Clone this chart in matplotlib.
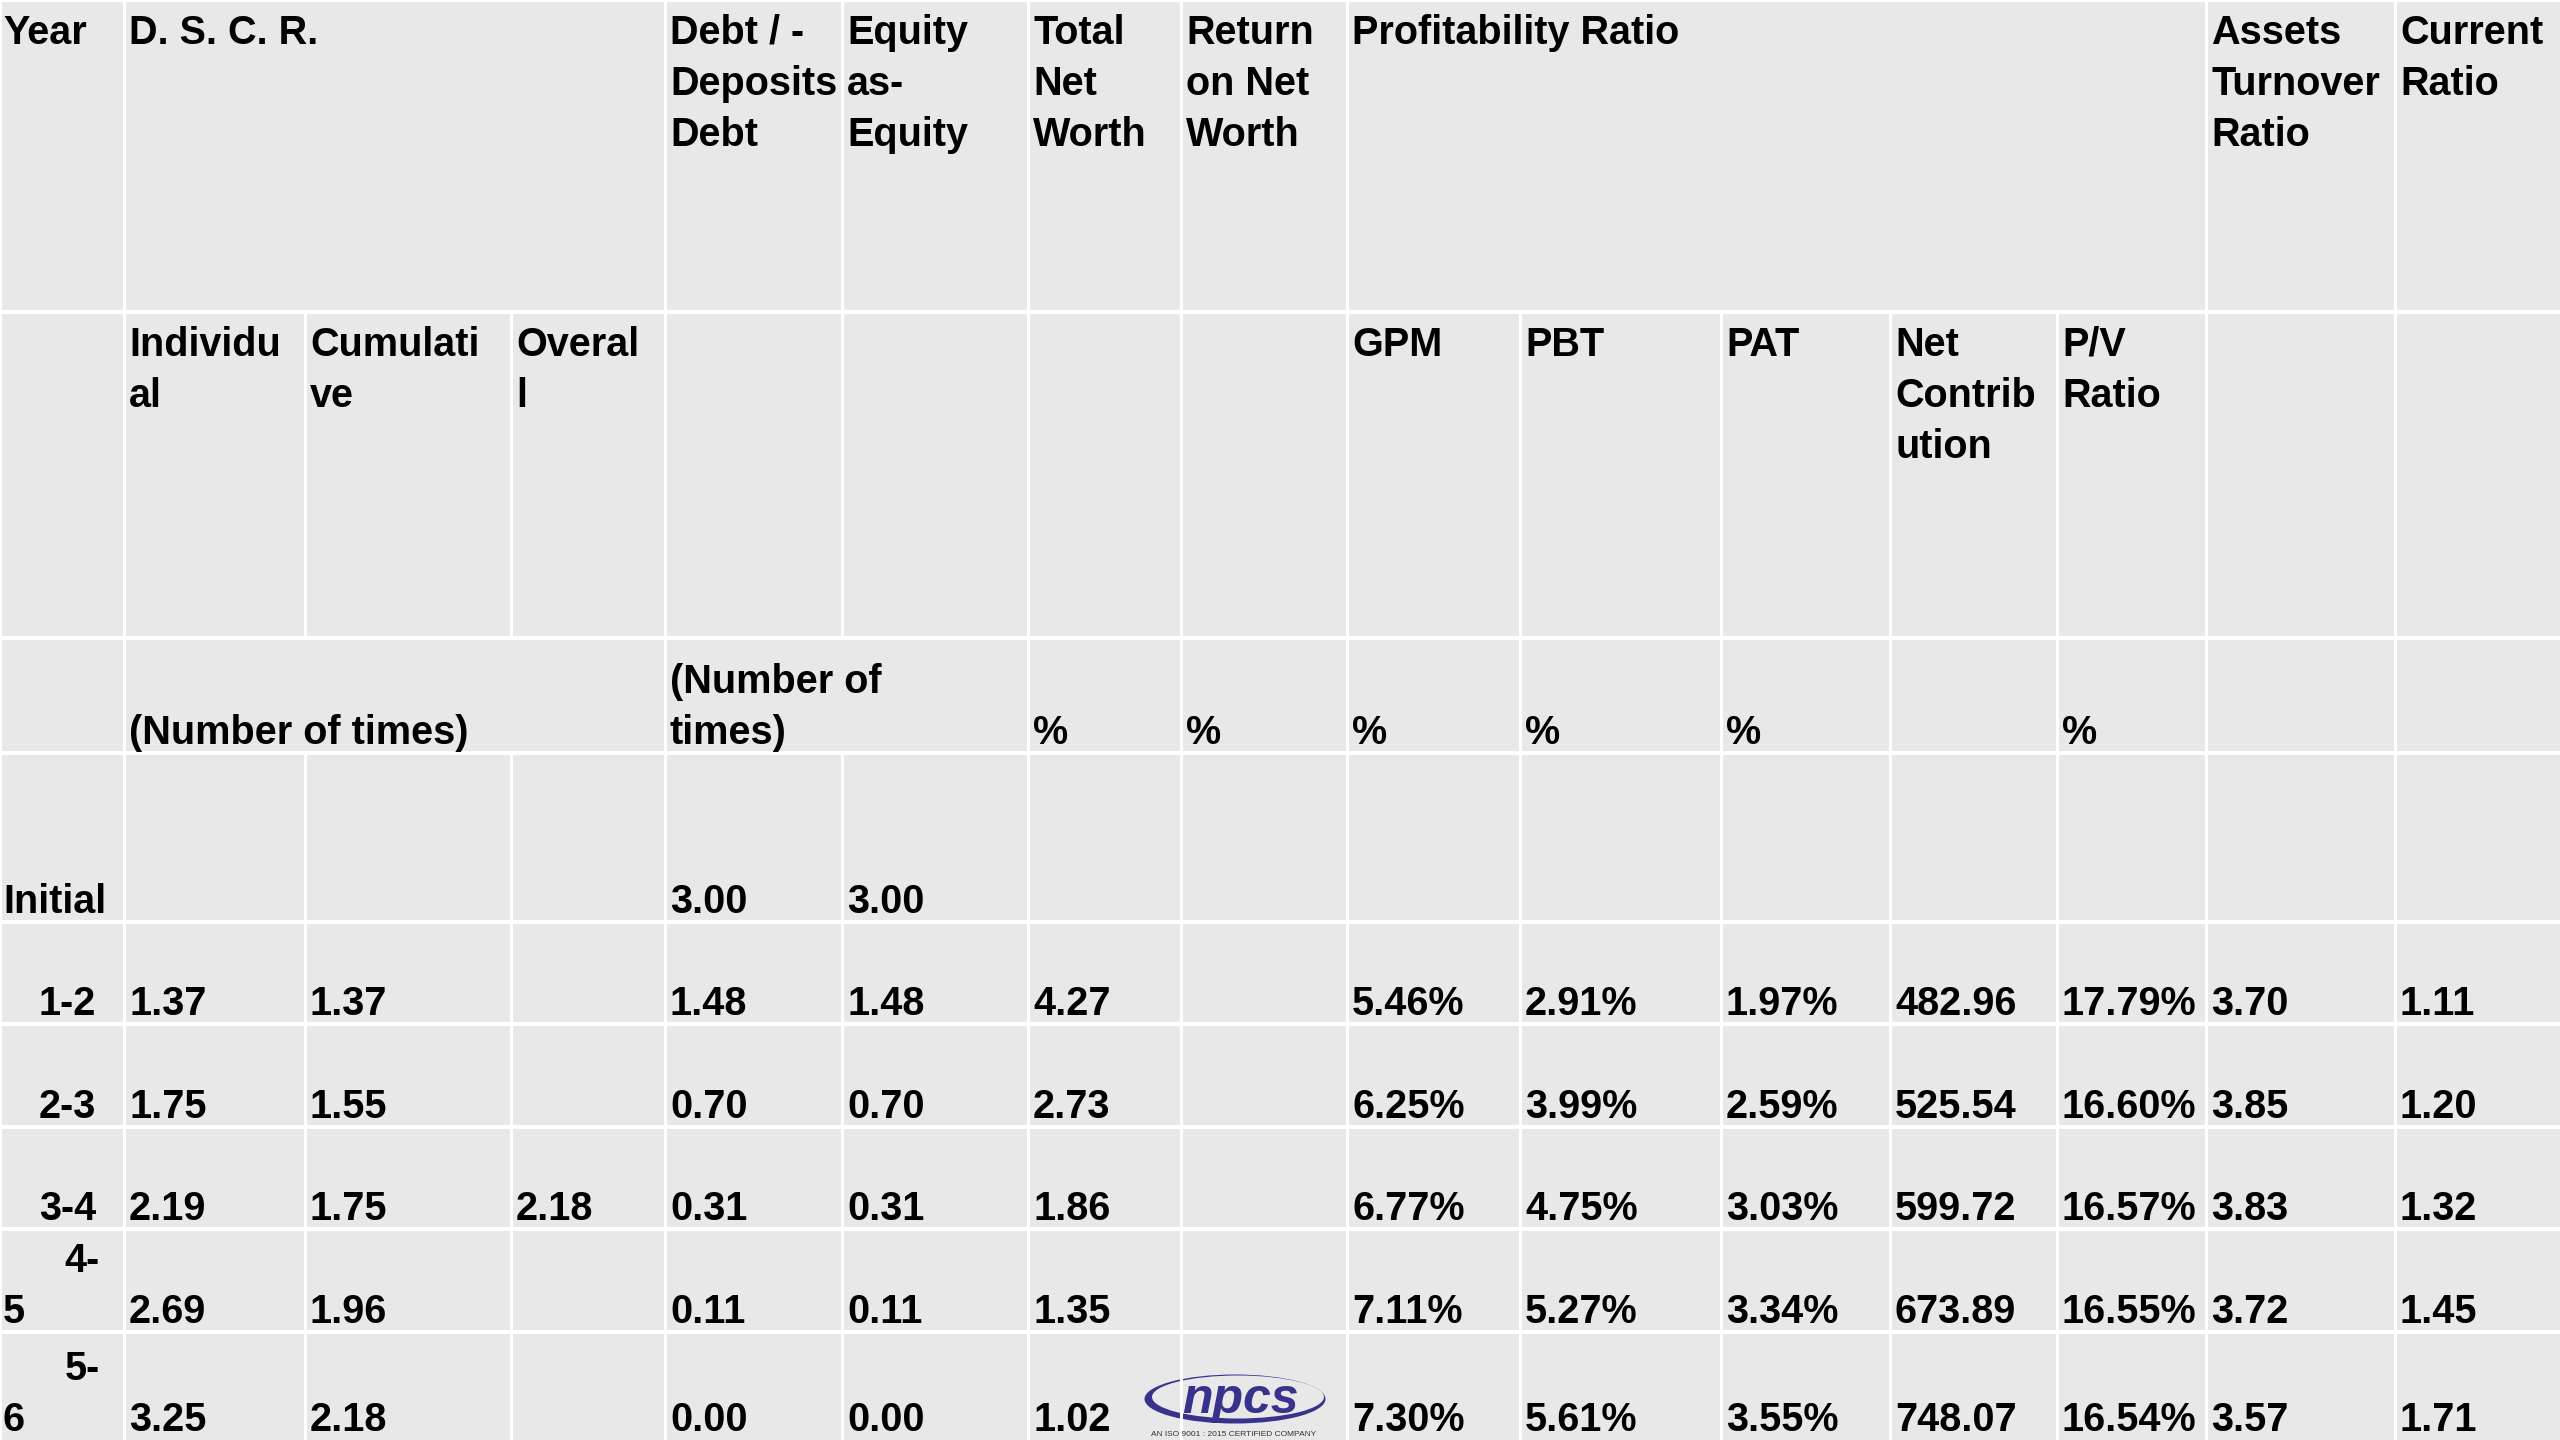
import matplotlib.pyplot as plt
from matplotlib.patches import Ellipse


# table values, blanks are None
years = ["Initial", "1-2", "2-3", "3-4", "4-\n5", "5-\n6"]
dscr_individual = [None, 1.37, 1.75, 2.19, 2.69, 3.25]
dscr_cumulative = [None, 1.37, 1.55, 1.75, 1.96, 2.18]
dscr_overall = [None, None, None, 2.18, None, None]
debt_deposits = [3.00, 1.48, 0.70, 0.31, 0.11, 0.00]
equity_as_equity = [3.00, 1.48, 0.70, 0.31, 0.11, 0.00]
total_net_worth = [None, 4.27, 2.73, 1.86, 1.35, 1.02]
return_net_worth = [None, None, None, None, None, None]
gpm = [None, 5.46, 6.25, 6.77, 7.11, 7.30]
pbt = [None, 2.91, 3.99, 4.75, 5.27, 5.61]
pat = [None, 1.97, 2.59, 3.03, 3.34, 3.55]
net_contribution = [None, 482.96, 525.54, 599.72, 673.89, 748.07]
pv_ratio = [None, 17.79, 16.60, 16.57, 16.55, 16.54]
assets_turnover = [None, 3.70, 3.85, 3.83, 3.72, 3.57]
current_ratio = [None, 1.11, 1.20, 1.32, 1.45, 1.71]

percent_cols = [8, 9, 10, 12]

# header rows: (first column, label)
header_top = [(0, "Year"), (1, "D. S. C. R."), (4, "Debt / -\nDeposits\nDebt"),
              (5, "Equity\nas-\nEquity"), (6, "Total\nNet\nWorth"),
              (7, "Return\non Net\nWorth"), (8, "Profitability Ratio"),
              (13, "Assets\nTurnover\nRatio"), (14, "Current\nRatio")]
header_sub = [(1, "Individu\nal"), (2, "Cumulati\nve"), (3, "Overal\nl"),
              (8, "GPM"), (9, "PBT"), (10, "PAT"), (11, "Net\nContrib\nution"),
              (12, "P/V\nRatio")]
header_units = [(1, "(Number of times)"), (4, "(Number of\ntimes)"), (6, "%"),
                (7, "%"), (8, "%"), (9, "%"), (10, "%"), (12, "%")]


col_edges = [0, 124, 305, 511, 665, 842, 1028, 1181, 1347, 1520, 1721,
             1890, 2057, 2206, 2395, 2560]
row_edges = [0, 312, 638, 753, 922, 1024, 1127, 1229, 1332, 1440]
# vertical lines missing where cells are merged
hidden = {0: [2, 3, 9, 10, 11, 12], 2: [2, 3, 5]}

bg = '#e8e8e8'
fs = 28.5
font = 'Liberation Sans'
line_step = 51

fig = plt.figure(figsize=(25.6, 14.4), dpi=100)
fig.patch.set_facecolor(bg)
ax = fig.add_axes([0, 0, 1, 1])
ax.set_xlim(0, 2560)
ax.set_ylim(1440, 0)
ax.axis('off')

# grid
for r in range(len(row_edges) - 1):
    xs = [col_edges[c] for c in range(1, len(col_edges) - 1)
          if c not in hidden.get(r, [])]
    ax.vlines(xs, row_edges[r], row_edges[r + 1], colors='white', linewidth=2.2)
ax.hlines(row_edges[:-1], 0, 2560, colors='white', linewidth=2.9)
ax.vlines([0], 0, 1440, colors='white', linewidth=2.2)


def put(col, row, text, top=True):
    lines = text.split("\n")
    n = len(lines)
    x = 3 if col == 0 else col_edges[col] + 5
    for i, line in enumerate(lines):
        if top:
            y = row_edges[row] + 44 + line_step * i
        else:
            y = row_edges[row + 1] - 9 - line_step * (n - 1 - i)
        ax.text(x, y, line, fontsize=fs, fontweight='bold', family=font,
                color='black', ha='left', va='baseline')


for c, t in header_top:
    put(c, 0, t)
for c, t in header_sub:
    put(c, 1, t)
for c, t in header_units:
    put(c, 2, t, top=False)

columns = [dscr_individual, dscr_cumulative, dscr_overall, debt_deposits,
           equity_as_equity, total_net_worth, return_net_worth, gpm, pbt, pat,
           net_contribution, pv_ratio, assets_turnover, current_ratio]

for i, year in enumerate(years):
    r = 3 + i
    base = row_edges[r + 1] - 9
    parts = year.split("\n")
    if i == 0:
        put(0, r, year, top=False)
    elif len(parts) == 1:
        ax.text(96, base, year, fontsize=fs, fontweight='bold', family=font,
                ha='right', va='baseline')
    else:
        ax.text(100, base - line_step, parts[0], fontsize=fs, fontweight='bold',
                family=font, ha='right', va='baseline')
        ax.text(3, base, parts[1], fontsize=fs, fontweight='bold', family=font,
                ha='left', va='baseline')
    for k, vals in enumerate(columns):
        v = vals[i]
        if v is None:
            continue
        col = k + 1
        s = f"{v:.2f}%" if col in percent_cols else f"{v:.2f}"
        put(col, r, s, top=False)

# npcs logo
blue = '#37338c'
ax.add_patch(Ellipse((1235, 1399), 181, 49, facecolor=blue, edgecolor='none'))
ax.add_patch(Ellipse((1238, 1397), 172, 43, facecolor=bg, edgecolor='none'))
ax.text(1240, 1400, "npcs", fontsize=36, fontweight='bold', fontstyle='italic',
        family=font, color=blue, ha='center', va='center')
ax.text(1234, 1431, "AN ISO 9001 : 2015 CERTIFIED COMPANY", fontsize=6,
        family=font, color='#333333', ha='center', va='top')

plt.savefig('out.png', dpi=100, facecolor=bg)
